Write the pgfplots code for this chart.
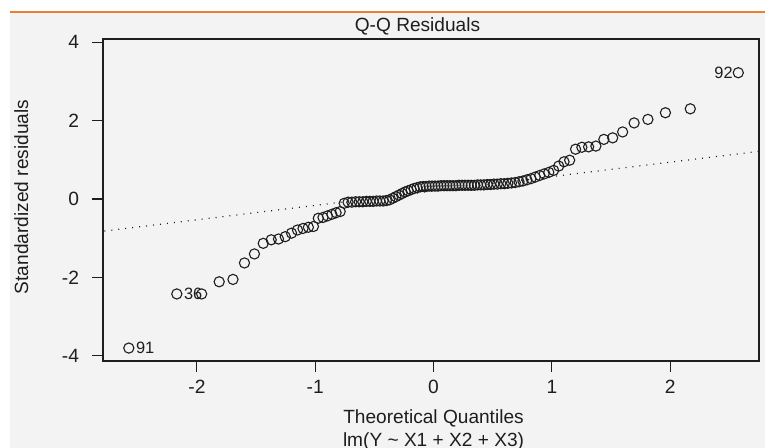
\documentclass[border=0pt]{standalone}
\usepackage{fontspec}
\setmainfont{Liberation Sans}
\usepackage{pgfplots}
\pgfplotsset{compat=1.18}
\usepackage{pgfplotstable}

\definecolor{bg}{RGB}{243,243,243}
\definecolor{topline}{RGB}{237,125,49}
\definecolor{ink}{RGB}{30,30,30}

% sorted standardized residuals against normal quantiles (n = 100)
\pgfplotstableread{
x y
-2.5758 -3.80
-2.1701 -2.42
-1.9600 -2.42
-1.8119 -2.11
-1.6954 -2.05
-1.5982 -1.63
-1.5141 -1.40
-1.4395 -1.13
-1.3722 -1.04
-1.3106 -1.02
-1.2536 -0.96
-1.2004 -0.87
-1.1503 -0.79
-1.1031 -0.75
-1.0581 -0.72
-1.0152 -0.70
-0.9741 -0.49
-0.9346 -0.47
-0.8965 -0.43
-0.8596 -0.39
-0.8239 -0.35
-0.7892 -0.32
-0.7554 -0.11
-0.7225 -0.08
-0.6903 -0.08
-0.6588 -0.07
-0.6280 -0.07
-0.5978 -0.07
-0.5681 -0.06
-0.5388 -0.06
-0.5101 -0.06
-0.4817 -0.05
-0.4538 -0.05
-0.4261 -0.05
-0.3989 -0.04
-0.3719 -0.02
-0.3451 0.02
-0.3186 0.06
-0.2924 0.10
-0.2663 0.14
-0.2404 0.18
-0.2147 0.21
-0.1891 0.24
-0.1637 0.27
-0.1383 0.29
-0.1130 0.31
-0.0878 0.32
-0.0627 0.32
-0.0376 0.33
-0.0125 0.33
0.0125 0.33
0.0376 0.33
0.0627 0.34
0.0878 0.34
0.1130 0.34
0.1383 0.34
0.1637 0.34
0.1891 0.34
0.2147 0.35
0.2404 0.35
0.2663 0.35
0.2924 0.35
0.3186 0.35
0.3451 0.35
0.3719 0.36
0.3989 0.36
0.4261 0.36
0.4538 0.37
0.4817 0.37
0.5101 0.38
0.5388 0.38
0.5681 0.39
0.5978 0.39
0.6280 0.40
0.6588 0.41
0.6903 0.42
0.7225 0.44
0.7554 0.46
0.7892 0.49
0.8239 0.52
0.8596 0.56
0.8965 0.60
0.9346 0.64
0.9741 0.68
1.0152 0.73
1.0581 0.84
1.1031 0.95
1.1503 0.99
1.2004 1.27
1.2536 1.32
1.3106 1.33
1.3722 1.35
1.4395 1.52
1.5141 1.56
1.5982 1.71
1.6954 1.94
1.8119 2.03
1.9600 2.20
2.1701 2.30
2.5758 3.22
}\qqdata

\begin{document}
\begin{tikzpicture}
\path[use as bounding box] (0,0) rectangle (382.5pt,-224pt);
\fill[white] (0,0) rectangle (382.5pt,-224pt);
\fill[bg] (5pt,-6pt) rectangle (382.5pt,-224pt);
\draw[topline, line width=1.1pt] (5pt,-5.9pt) -- (382.5pt,-5.9pt);

\begin{axis}[
  at={(51.5pt,-19.5pt)}, anchor=north west,
  scale only axis, width=328pt, height=161pt,
  xmin=-2.794, xmax=2.751, ymin=-4.13, ymax=4.08,
  axis line style={ink, line width=0.55pt},
  xtick={-2,-1,0,1,2}, xticklabels={-2,-1,0,1,2},
  ytick={-4,-2,0,2,4}, yticklabels={-4,-2,0,2,4},
  tick align=outside, major tick length=5.5pt,
  tick style={ink, line width=0.55pt},
  xtick pos=bottom, ytick pos=left,
  tick label style={font=\fontsize{9.6}{11}\selectfont, text=ink},
  yticklabel style={anchor=east, xshift=-3pt},
  xticklabel style={anchor=north, yshift=-0.5pt},
]
\addplot[only marks, mark=o, mark size=2.55pt, mark options={ink, line width=0.55pt}] table {\qqdata};
\addplot[ink, line width=0.6pt, dash pattern=on 0.5pt off 3pt] coordinates {(-2.9,-0.86) (2.9,1.27)};
\addplot[draw=none, mark=none, nodes near coords, point meta=explicit symbolic,
  every node near coord/.append style={anchor=west, inner sep=0pt, xshift=3.4pt, yshift=0pt,
    font=\fontsize{8.2}{9}\selectfont, text=ink}]
  coordinates {(-2.5758,-3.80) [91] (-2.1701,-2.42) [36]};
\addplot[draw=none, mark=none, nodes near coords, point meta=explicit symbolic,
  every node near coord/.append style={anchor=east, inner sep=0pt, xshift=-2.6pt, yshift=0pt,
    font=\fontsize{8.2}{9}\selectfont, text=ink}]
  coordinates {(2.5758,3.22) [92]};
\end{axis}

\node[anchor=base, font=\fontsize{9.55}{11}\selectfont, text=ink] at (208.75pt,-16pt) {Q-Q Residuals};
\node[anchor=base, font=\fontsize{9.55}{11}\selectfont, text=ink] at (216.75pt,-211.5pt) {Theoretical Quantiles};
\node[anchor=base, font=\fontsize{9.55}{11}\selectfont, text=ink] at (216.75pt,-223pt) {lm(Y \textasciitilde{} X1 + X2 + X3)};
\node[anchor=base, rotate=90, font=\fontsize{9.55}{11}\selectfont, text=ink] at (14pt,-98.5pt) {Standardized residuals};
\end{tikzpicture}
\end{document}
